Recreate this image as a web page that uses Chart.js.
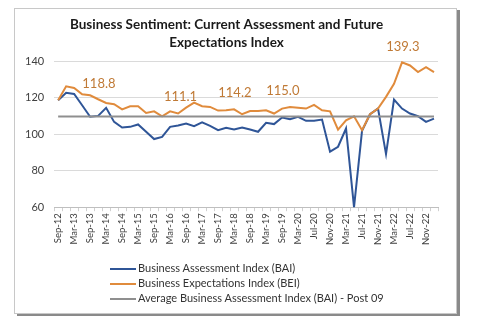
<!DOCTYPE html>
<html>
<head>
<meta charset="utf-8">
<script src="https://cdn.jsdelivr.net/npm/chart.js@4.4.1/dist/chart.umd.min.js"></script>
<style>
  body { margin: 0; background: #fff; font-family: Lato, "Open Sans", sans-serif; }
  #frame {
    position: absolute; left: 14px; top: 8px; width: 441px; height: 304px;
    border: 1px solid #c8c8c8; box-shadow: 3px 2px 0 #8a8a8a;
  }
  #chart { position: absolute; left: 0; top: 0; }
  #legend { position: absolute; left: 110px; top: 260px; font-size: 11px; color: #333; }
  #legend div { height: 15px; line-height: 15px; white-space: nowrap; }
  #legend span { display: inline-block; width: 26px; height: 2px; vertical-align: middle; margin-right: 2px; }
</style>
</head>
<body>
<div id="frame"></div>
<canvas id="chart" width="481" height="325"></canvas>
<div id="legend"></div>
<script>
// periods: quarterly to Mar-20, then every two months
const categories = [
  'Sep-12','Dec-12','Mar-13','Jun-13','Sep-13','Dec-13','Mar-14','Jun-14','Sep-14','Dec-14',
  'Mar-15','Jun-15','Sep-15','Dec-15','Mar-16','Jun-16','Sep-16','Dec-16','Mar-17','Jun-17',
  'Sep-17','Dec-17','Mar-18','Jun-18','Sep-18','Dec-18','Mar-19','Jun-19','Sep-19','Dec-19',
  'Mar-20','May-20','Jul-20','Sep-20','Nov-20','Jan-21','Mar-21','May-21','Jul-21','Sep-21',
  'Nov-21','Jan-22','Mar-22','May-22','Jul-22','Sep-22','Nov-22','Jan-23'
];

const bai = [
  118.5, 122.7, 122.0, 115.8, 109.5, 110.0, 114.4, 106.7, 103.6, 104.0,
  105.3, 101.3, 97.3, 98.5, 104.0, 104.7, 105.8, 104.4, 106.4, 104.5,
  102.2, 103.5, 102.5, 103.6, 102.5, 101.3, 106.2, 105.5, 109.1, 108.2,
  109.5, 107.3, 107.3, 108.0, 90.4, 93.1, 103.1, 60.0, 101.8, 110.9,
  114.0, 89.1, 118.9, 114.0, 111.3, 109.8, 106.7, 108.5
];

const bei = [
  118.5, 126.2, 125.3, 121.8, 121.3, 119.1, 117.1, 116.4, 113.6, 115.3,
  115.3, 111.6, 112.5, 109.8, 112.5, 111.3, 114.5, 117.3, 115.3, 114.9,
  112.9, 113.1, 113.6, 110.9, 112.7, 112.7, 113.1, 111.3, 114.0, 114.9,
  114.5, 114.0, 116.0, 113.1, 112.5, 102.5, 107.6, 109.8, 102.2, 110.9,
  114.0, 120.4, 127.6, 139.3, 137.6, 134.0, 136.7, 134.0
];

const avgBai = [
  109.6, 109.6, 109.6, 109.6, 109.6, 109.6, 109.6, 109.6, 109.6, 109.6,
  109.6, 109.6, 109.6, 109.6, 109.6, 109.6, 109.6, 109.6, 109.6, 109.6,
  109.6, 109.6, 109.6, 109.6, 109.6, 109.6, 109.6, 109.6, 109.6, 109.6,
  109.6, 109.6, 109.6, 109.6, 109.6, 109.6, 109.6, 109.6, 109.6, 109.6,
  109.6, 109.6, 109.6, 109.6, 109.6, 109.6, 109.6, 109.6
];

const yTicks = [60, 80, 100, 120, 140];

const seriesNames = [
  'Business Assessment Index (BAI)',
  'Business Expectations Index (BEI)',
  'Average Business Assessment Index (BAI) - Post 09'
];
const seriesColors = ['#2f5597', '#e08b3c', '#8f8f8f'];

// callout values written on the chart
const callouts = [
  { text: '118.8', at: 5.1, value: 127.8 },
  { text: '111.1', at: 15.3, value: 120.2 },
  { text: '114.2', at: 22.1, value: 122.9 },
  { text: '115.0', at: 28.1, value: 124.0 },
  { text: '139.3', at: 43.1, value: 148.0 }
];

const calloutPlugin = {
  id: 'callouts',
  afterDatasetsDraw(chart) {
    const { ctx, scales } = chart;
    ctx.save();
    ctx.font = '13px Lato, sans-serif';
    ctx.fillStyle = '#c07a36';
    ctx.textAlign = 'center';
    ctx.textBaseline = 'middle';
    callouts.forEach(c => {
      ctx.fillText(c.text, scales.x.getPixelForValue(c.at), scales.y.getPixelForValue(c.value));
    });
    ctx.restore();
  }
};

const ctx = document.getElementById('chart').getContext('2d');
new Chart(ctx, {
  type: 'line',
  data: {
    labels: categories,
    datasets: [
      { label: seriesNames[0], data: bai, borderColor: seriesColors[0], borderWidth: 2, pointRadius: 0, tension: 0, order: 2 },
      { label: seriesNames[1], data: bei, borderColor: seriesColors[1], borderWidth: 2, pointRadius: 0, tension: 0, order: 1 },
      { label: seriesNames[2], data: avgBai, borderColor: seriesColors[2], borderWidth: 2, pointRadius: 0, tension: 0, order: 0 }
    ]
  },
  options: {
    responsive: false,
    animation: false,
    layout: { padding: { top: 16, left: 15, right: 43, bottom: 78 } },
    plugins: {
      legend: { display: false },
      tooltip: { enabled: false },
      title: {
        display: true,
        text: ['Business Sentiment: Current Assessment and Future', 'Expectations Index'],
        color: '#1a1a1a',
        font: { family: 'Lato', size: 13.5, weight: 'bold', lineHeight: 1.3 },
        padding: { top: 0, bottom: 10 }
      }
    },
    scales: {
      x: {
        offset: true,
        grid: { display: true, drawOnChartArea: false, tickLength: 4, color: '#d0d0d0', offset: true },
        border: { color: '#bfbfbf' },
        ticks: {
          autoSkip: false,
          maxRotation: 90,
          minRotation: 90,
          padding: 2,
          color: '#404040',
          font: { family: 'Lato', size: 9.5 },
          callback: (v, i) => (i % 2 === 0 ? categories[i] : '')
        }
      },
      y: {
        min: 60,
        max: 140,
        afterBuildTicks: axis => { axis.ticks = yTicks.map(v => ({ value: v })); },
        grid: { color: '#dadada', drawTicks: false },
        border: { display: false },
        ticks: { padding: 10, color: '#404040', font: { family: 'Lato', size: 11 } }
      }
    }
  },
  plugins: [calloutPlugin]
});

// legend stacked one per row, as in the source
const legend = document.getElementById('legend');
seriesNames.forEach((name, i) => {
  const row = document.createElement('div');
  row.innerHTML = '<span style="background:' + seriesColors[i] + '"></span>' + name;
  legend.appendChild(row);
});
</script>
</body>
</html>
